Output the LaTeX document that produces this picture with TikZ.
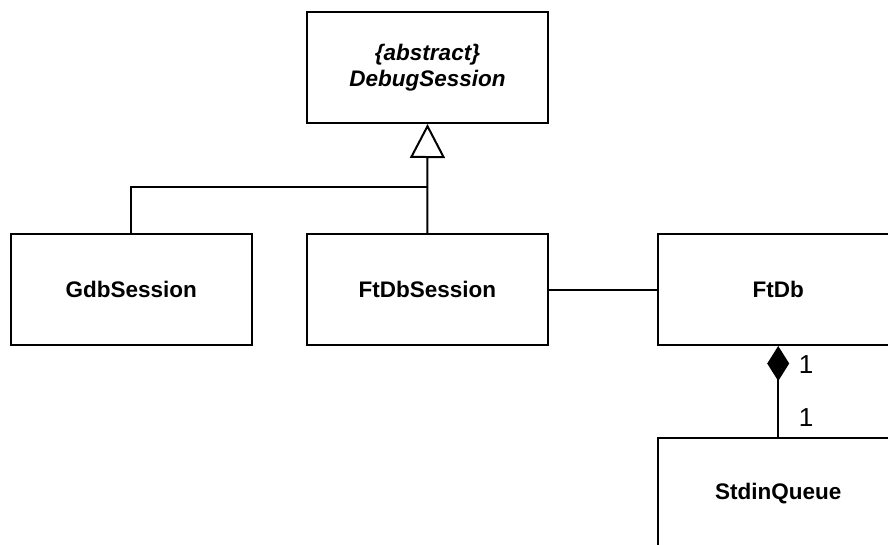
\documentclass[tikz,border=0pt]{standalone}
\usepackage{fontspec}
\setmainfont{Liberation Sans}
\usetikzlibrary{arrows.meta}
\begin{document}
\begin{tikzpicture}[x=1pt,y=-1pt,
  classbox/.style={draw, line width=2pt, rectangle, minimum width=241pt,
    minimum height=111pt, inner sep=0pt, align=center,
    font=\fontsize{22.5}{26}\selectfont\bfseries},
  link/.style={line width=2pt},
  mult/.style={inner sep=0pt, font=\fontsize{26}{26}\selectfont}]
\useasboundingbox (0,0) rectangle (888,544);
\clip (0,0) rectangle (888,544);
\fill[white] (0,0) rectangle (888,544);

% classes
\node[classbox] (debug) at (427.5,67.5) {\itshape\{abstract\}\\\itshape DebugSession};
\node[classbox] (gdb) at (131.3,289.5) {GdbSession};
\node[classbox] (ftdbs) at (427.3,289.5) {FtDbSession};
\node[classbox] (ftdb) at (778.2,289.5) {FtDb};
\node[classbox] (stdin) at (778.2,493.5) {StdinQueue};

% inheritance
\coordinate (join) at (427.3,187.3);
\draw[link, -{Triangle[open, width=35pt, length=34pt, line width=2pt]}] (ftdbs.north) -- (debug.south);
\draw[link] (gdb.north) |- (join);

% association
\draw[link] (ftdbs.east) -- (ftdb.west);

% composition
\draw[link, {Diamond[width=22pt, length=35pt]}-] (ftdb.south) -- (stdin.north);
\node[mult] (m1) at (806,364.5) {1};
\node[mult] (m2) at (806,417.8) {1};
\end{tikzpicture}
\end{document}
